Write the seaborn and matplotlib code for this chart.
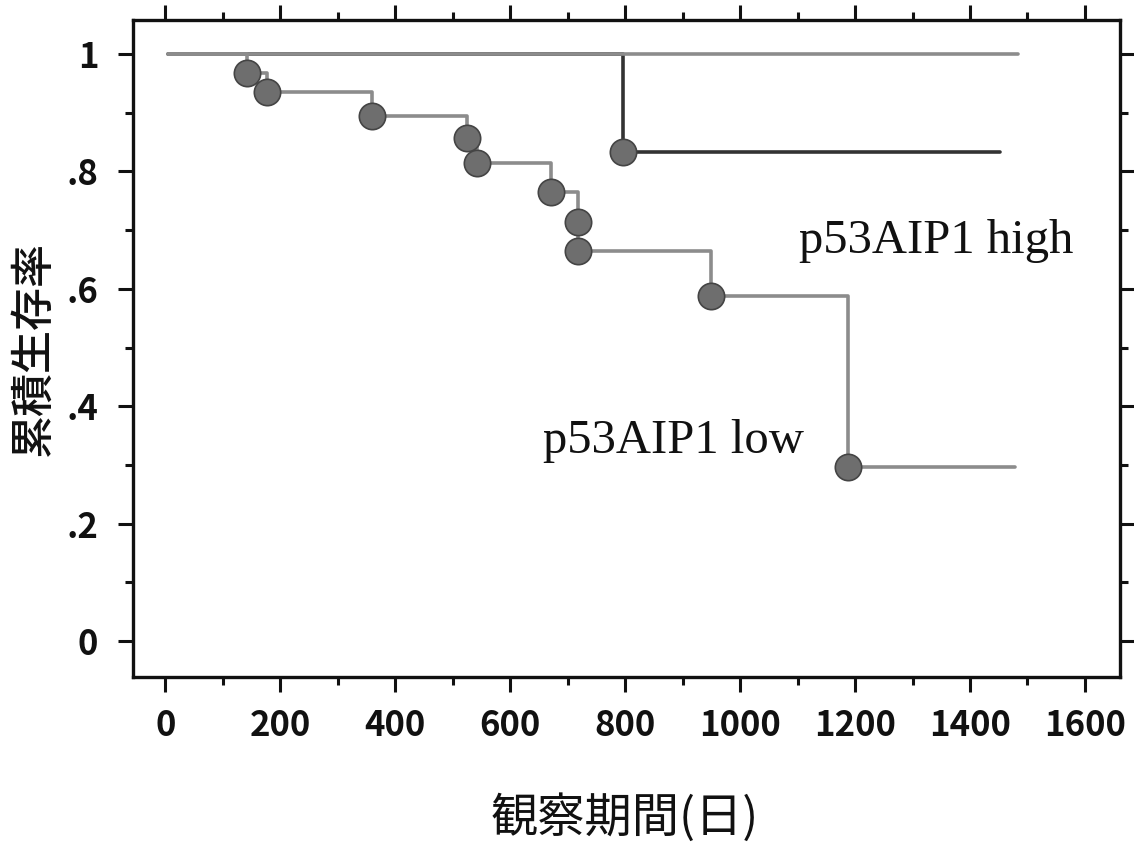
import numpy as np
import matplotlib
matplotlib.use("Agg")
import matplotlib.pyplot as plt
import matplotlib.ticker as mticker
import seaborn as sns

# ---------------------------------------------------------------------
# data (Kaplan-Meier, days vs cumulative survival)
# ---------------------------------------------------------------------
low_days = [5, 143, 177, 360, 525, 543, 671, 718, 718, 950, 1188, 1478]
low_surv = [1.0, 0.967, 0.935, 0.894, 0.857, 0.814, 0.765, 0.714, 0.664, 0.588, 0.296, 0.296]

high_days = [5, 797, 1452]
high_surv = [1.0, 0.833, 0.833]

# the grey line along 1.0 runs past both curves in the original
top_days = [5, 1483]
top_surv = [1.0, 1.0]

x_ticks = [0, 200, 400, 600, 800, 1000, 1200, 1400, 1600]
y_ticks = [0, 0.2, 0.4, 0.6, 0.8, 1.0]
y_tick_labels = ["0", ".2", ".4", ".6", ".8", "1"]

label_high = "p53AIP1 high"
label_low = "p53AIP1 low"
x_label = "観察期間(日)"
y_label = "累積生存率"

# ---------------------------------------------------------------------
# style
# ---------------------------------------------------------------------
sns.set_theme(style="ticks")
plt.rcParams["font.family"] = ["Noto Sans CJK JP", "DejaVu Sans"]

grey = "#8c8c8c"
dark = "#333333"
ink = "#111111"

fig = plt.figure(figsize=(11.34, 8.46), dpi=100)
ax = fig.add_axes([0.1173, 0.1998, 0.8704, 0.7766])

# curves
sns.lineplot(x=high_days, y=high_surv, ax=ax, drawstyle="steps-post",
             estimator=None, sort=False, color=dark, linewidth=2.6, zorder=2)
sns.lineplot(x=low_days, y=low_surv, ax=ax, drawstyle="steps-post",
             estimator=None, sort=False, color=grey, linewidth=2.6, zorder=2)
sns.lineplot(x=top_days, y=top_surv, ax=ax, estimator=None, sort=False,
             color=grey, linewidth=2.6, zorder=3)

# event markers
ev_x = low_days[1:-1] + high_days[1:-1]
ev_y = low_surv[1:-1] + high_surv[1:-1]
sns.scatterplot(x=ev_x, y=ev_y, ax=ax, s=360, color="#6e6e6e",
                edgecolor="#444444", linewidth=1.2, zorder=4, legend=False)

# annotations
ax.text(1103, 0.661, label_high, family="Liberation Serif", fontsize=35,
        color=ink, va="baseline")
ax.text(657, 0.320, label_low, family="Liberation Serif", fontsize=35,
        color=ink, va="baseline")

# axes
ax.set_xlim(-56, 1661)
ax.set_ylim(-0.061, 1.058)
ax.set_xticks(x_ticks)
ax.set_xticklabels([str(t) for t in x_ticks])
ax.set_yticks(y_ticks)
ax.set_yticklabels(y_tick_labels)
ax.xaxis.set_minor_locator(mticker.MultipleLocator(100))
ax.yaxis.set_minor_locator(mticker.MultipleLocator(0.1))

for s in ax.spines.values():
    s.set_visible(True)
    s.set_linewidth(2.4)
    s.set_color(ink)

ax.tick_params(which="major", length=11, width=2.2, color=ink,
               labelsize=25, pad=11, labelcolor=ink,
               top=True, right=True, direction="out")
ax.tick_params(which="minor", length=6, width=2.2, color=ink,
               top=True, right=True, direction="out")
ax.tick_params(axis="y", which="major", pad=14)
for lab in ax.get_xticklabels() + ax.get_yticklabels():
    lab.set_fontweight("bold")

ax.set_xlabel(x_label, fontsize=34, color=ink)
ax.set_ylabel(y_label, fontsize=31, color=ink, fontweight="medium")
ax.xaxis.set_label_coords(0.498, -0.215)
ax.yaxis.set_label_coords(-0.101, 0.5)
ax.xaxis.label.set_va("center")
ax.yaxis.label.set_va("center")

fig.savefig("out.png", dpi=100, facecolor="white")
